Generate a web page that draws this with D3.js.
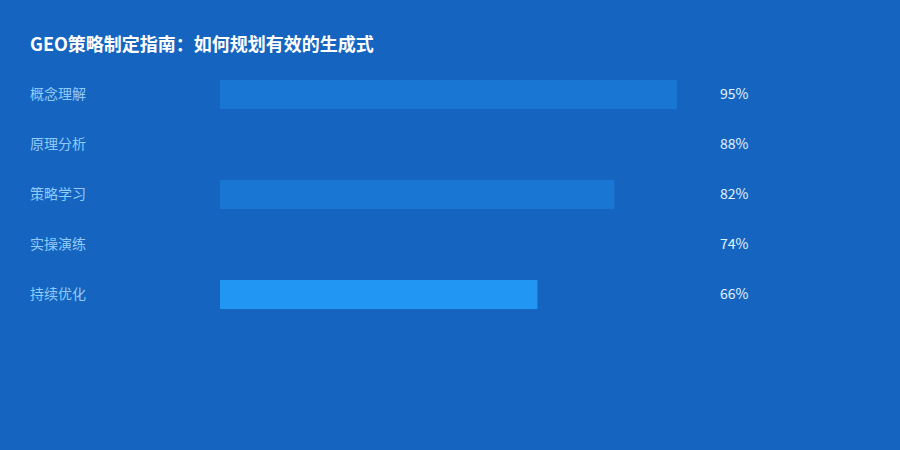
<!DOCTYPE html>
<html>
<head>
<meta charset="utf-8">
<script src="https://cdn.jsdelivr.net/npm/d3@7"></script>
<style>
  html, body { margin: 0; padding: 0; background: #1565C0; }
  svg { display: block; font-family: "Noto Sans CJK SC", "Noto Sans", sans-serif; }
</style>
</head>
<body>
<div id="chartContainer"></div>
<script>
// chart data
var title = "GEO策略制定指南：如何规划有效的生成式";
var categories = ["概念理解", "原理分析", "策略学习", "实操演练", "持续优化"];
var values = [95, 88, 82, 74, 66];
var barColors = ["#1976D2", "#1565C0", "#1976D2", "#1565C0", "#2196F3"];

var width = 900, height = 450;

var svg = d3.select("#chartContainer")
    .append("svg")
    .attr("width", width)
    .attr("height", height);

svg.append("rect")
    .attr("width", width)
    .attr("height", height)
    .attr("fill", "#1565C0");

// title
svg.append("text")
    .attr("x", 30)
    .attr("y", 51)
    .attr("fill", "#ffffff")
    .attr("font-size", "18px")
    .attr("font-weight", "bold")
    .text(title);

const xScale = d3.scaleLinear()
    .domain([0, 100])
    .range([220, 701]);

const yScale = d3.scaleBand()
    .domain(categories)
    .range([69.5, 319.5])
    .paddingInner(0.42)
    .paddingOuter(0.21);

var dataset = categories.map(function(c, i){
    return {name: c, value: values[i], color: barColors[i]};
});

// bars
svg.append("g")
    .selectAll("rect")
    .data(dataset)
    .join("rect")
    .attr("x", xScale(0))
    .attr("y", d => yScale(d.name))
    .attr("width", d => xScale(d.value) - xScale(0))
    .attr("height", yScale.bandwidth())
    .attr("fill", d => d.color);

// category labels
svg.append("g")
    .selectAll("text")
    .data(dataset)
    .join("text")
    .attr("x", 30)
    .attr("y", d => yScale(d.name) + yScale.bandwidth() / 2)
    .attr("dy", "0.35em")
    .attr("fill", "#90CAF9")
    .attr("font-size", "14px")
    .text(d => d.name);

// value labels
svg.append("g")
    .selectAll("text")
    .data(dataset)
    .join("text")
    .attr("x", xScale(100) + 19)
    .attr("y", d => yScale(d.name) + yScale.bandwidth() / 2)
    .attr("dy", "0.35em")
    .attr("fill", "#E3F2FD")
    .attr("font-size", "14px")
    .text(d => d.value + "%");
</script>
</body>
</html>
